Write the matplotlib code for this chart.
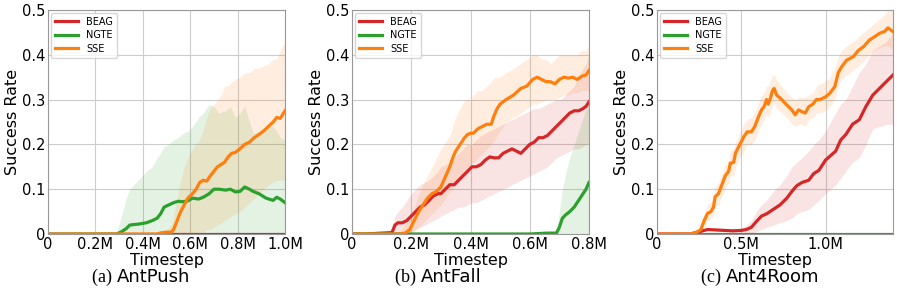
import matplotlib
matplotlib.use("Agg")
import matplotlib.pyplot as plt
import matplotlib.transforms as mtransforms
import numpy as np

# ---------------- data (timesteps in millions) ----------------
# (a) AntPush
push_beag_x = [0, 1.0]
push_beag_m = [0, 0]
push_beag_lo = [0, 0]
push_beag_hi = [0, 0]

push_ngte_x = [0, 0.25, 0.29, 0.31, 0.33, 0.345, 0.38, 0.415, 0.44, 0.46, 0.475, 0.49,
               0.51, 0.53, 0.55, 0.57, 0.59, 0.61, 0.635, 0.655, 0.68, 0.70, 0.72, 0.75,
               0.77, 0.79, 0.81, 0.83, 0.85, 0.866, 0.89, 0.92, 0.95, 0.965, 0.98, 1.0]
push_ngte_m = [0, 0, 0, 0.005, 0.012, 0.02, 0.022, 0.025, 0.03, 0.035, 0.045, 0.06,
               0.065, 0.07, 0.073, 0.072, 0.074, 0.08, 0.078, 0.082, 0.09, 0.1, 0.1, 0.098,
               0.1, 0.094, 0.095, 0.105, 0.1, 0.095, 0.09, 0.08, 0.075, 0.082, 0.078, 0.07]
push_ngte_hi = [0, 0, 0.005, 0.04, 0.08, 0.1, 0.12, 0.14, 0.15, 0.17, 0.18, 0.195,
                0.2, 0.21, 0.215, 0.225, 0.23, 0.24, 0.26, 0.27, 0.29, 0.285, 0.27, 0.275,
                0.285, 0.26, 0.27, 0.285, 0.25, 0.225, 0.23, 0.24, 0.24, 0.23, 0.215, 0.21]
push_ngte_lo = [0] * 36

push_sse_x = [0, 0.46, 0.48, 0.5, 0.52, 0.53, 0.545, 0.56, 0.575, 0.59, 0.61, 0.625,
              0.64, 0.655, 0.67, 0.685, 0.70, 0.715, 0.73, 0.745, 0.76, 0.775, 0.79, 0.81,
              0.83, 0.85, 0.87, 0.89, 0.91, 0.93, 0.95, 0.965, 0.98, 1.0]
push_sse_m = [0, 0, 0.003, 0.004, 0.004, 0.01, 0.03, 0.05, 0.065, 0.08, 0.09, 0.1,
              0.115, 0.12, 0.118, 0.13, 0.14, 0.15, 0.155, 0.16, 0.172, 0.18, 0.182, 0.19,
              0.2, 0.205, 0.215, 0.222, 0.23, 0.24, 0.25, 0.26, 0.258, 0.275]
push_sse_hi = [0, 0, 0.005, 0.01, 0.02, 0.04, 0.08, 0.12, 0.15, 0.17, 0.19, 0.2,
               0.21, 0.23, 0.26, 0.28, 0.29, 0.3, 0.31, 0.33, 0.33, 0.34, 0.345, 0.35,
               0.36, 0.36, 0.37, 0.37, 0.375, 0.38, 0.39, 0.39, 0.41, 0.43]
push_sse_lo = [0, 0, 0, 0, 0, 0, 0, 0, 0, 0, 0, 0.002,
               0.005, 0.005, 0.01, 0.01, 0.015, 0.02, 0.025, 0.03, 0.035, 0.04, 0.045, 0.05,
               0.06, 0.07, 0.08, 0.09, 0.1, 0.11, 0.115, 0.12, 0.12, 0.12]

# (b) AntFall
fall_beag_x = [0, 0.05, 0.1, 0.135, 0.145, 0.155, 0.17, 0.185, 0.2, 0.215,
               0.23, 0.245, 0.26, 0.275, 0.29, 0.3, 0.315, 0.33, 0.345, 0.36,
               0.375, 0.39, 0.405, 0.42, 0.435, 0.45, 0.465, 0.48, 0.495, 0.51,
               0.525, 0.54, 0.555, 0.57, 0.585, 0.6, 0.615, 0.63, 0.645, 0.66,
               0.675, 0.69, 0.705, 0.72, 0.735, 0.75, 0.765, 0.78, 0.79, 0.8]
fall_beag_m = [0, 0, 0.002, 0.003, 0.02, 0.025, 0.025, 0.03, 0.04, 0.05,
               0.06, 0.065, 0.075, 0.085, 0.09, 0.09, 0.1, 0.11, 0.11, 0.12,
               0.13, 0.14, 0.15, 0.15, 0.155, 0.165, 0.172, 0.17, 0.17, 0.18,
               0.185, 0.19, 0.185, 0.18, 0.19, 0.2, 0.205, 0.215, 0.215, 0.22,
               0.23, 0.24, 0.25, 0.26, 0.27, 0.275, 0.275, 0.28, 0.285, 0.295]
fall_beag_hi = [0, 0, 0.005, 0.01, 0.04, 0.05, 0.06, 0.075, 0.09, 0.1,
                0.11, 0.115, 0.12, 0.13, 0.14, 0.15, 0.155, 0.16, 0.17, 0.18,
                0.19, 0.2, 0.2, 0.21, 0.22, 0.225, 0.23, 0.235, 0.24, 0.245,
                0.25, 0.255, 0.26, 0.265, 0.27, 0.275, 0.28, 0.28, 0.285, 0.29,
                0.295, 0.3, 0.3, 0.31, 0.32, 0.33, 0.35, 0.37, 0.38, 0.4]
fall_beag_lo = [0, 0, 0, 0, 0, 0, 0, 0, 0.005, 0.01,
                0.015, 0.02, 0.025, 0.03, 0.035, 0.04, 0.045, 0.05, 0.055, 0.06,
                0.06, 0.065, 0.07, 0.07, 0.075, 0.08, 0.085, 0.09, 0.095, 0.1,
                0.105, 0.11, 0.115, 0.12, 0.125, 0.13, 0.135, 0.14, 0.145, 0.15,
                0.16, 0.17, 0.175, 0.18, 0.185, 0.19, 0.19, 0.195, 0.2, 0.2]

fall_ngte_x = [0, 0.6, 0.66, 0.69, 0.7, 0.71, 0.72, 0.735, 0.75, 0.765, 0.78, 0.79, 0.8]
fall_ngte_m = [0, 0, 0.002, 0.002, 0.015, 0.035, 0.042, 0.05, 0.06, 0.075, 0.09, 0.1, 0.115]
fall_ngte_hi = [0, 0, 0.003, 0.005, 0.05, 0.1, 0.13, 0.17, 0.2, 0.23, 0.26, 0.28, 0.3]
fall_ngte_lo = [0] * 13

fall_sse_x = [0, 0.1, 0.16, 0.18, 0.195, 0.21, 0.225, 0.24, 0.255, 0.27,
              0.285, 0.3, 0.31, 0.32, 0.33, 0.34, 0.35, 0.365, 0.38, 0.39,
              0.40, 0.41, 0.425, 0.44, 0.455, 0.47, 0.48, 0.49, 0.50, 0.52,
              0.545, 0.57, 0.59, 0.61, 0.625, 0.64, 0.655, 0.67, 0.685, 0.70,
              0.715, 0.73, 0.745, 0.76, 0.775, 0.79, 0.8]
fall_sse_m = [0, 0, 0, 0.002, 0.01, 0.03, 0.05, 0.065, 0.08, 0.09,
              0.095, 0.105, 0.12, 0.135, 0.15, 0.17, 0.185, 0.2, 0.215, 0.222,
              0.225, 0.225, 0.235, 0.24, 0.245, 0.245, 0.265, 0.28, 0.29, 0.3,
              0.31, 0.325, 0.33, 0.345, 0.35, 0.345, 0.34, 0.34, 0.335, 0.345,
              0.35, 0.348, 0.35, 0.345, 0.352, 0.355, 0.365]
fall_sse_hi = [0, 0, 0.003, 0.02, 0.04, 0.06, 0.09, 0.11, 0.13, 0.15,
               0.17, 0.19, 0.2, 0.21, 0.22, 0.24, 0.26, 0.28, 0.3, 0.3,
               0.3, 0.31, 0.32, 0.32, 0.33, 0.34, 0.35, 0.35, 0.35, 0.36,
               0.37, 0.38, 0.39, 0.4, 0.4, 0.39, 0.39, 0.38, 0.39, 0.4,
               0.4, 0.4, 0.4, 0.4, 0.41, 0.41, 0.42]
fall_sse_lo = [0, 0, 0, 0, 0, 0.005, 0.015, 0.025, 0.035, 0.045,
               0.055, 0.065, 0.075, 0.085, 0.095, 0.1, 0.11, 0.125, 0.14, 0.15,
               0.155, 0.16, 0.17, 0.18, 0.19, 0.2, 0.21, 0.22, 0.23, 0.25,
               0.26, 0.27, 0.28, 0.29, 0.29, 0.295, 0.3, 0.3, 0.3, 0.305,
               0.31, 0.31, 0.315, 0.315, 0.32, 0.32, 0.32]

# (c) Ant4Room
room_beag_x = [0, 0.2, 0.25, 0.3, 0.35, 0.4, 0.45, 0.5, 0.53, 0.56,
               0.59, 0.62, 0.65, 0.69, 0.73, 0.77, 0.8, 0.83, 0.86, 0.9,
               0.93, 0.96, 1.0, 1.03, 1.06, 1.09, 1.12, 1.16, 1.2, 1.24,
               1.28, 1.32, 1.36, 1.4]
room_beag_m = [0, 0, 0.005, 0.01, 0.009, 0.008, 0.007, 0.008, 0.01, 0.015,
               0.028, 0.04, 0.045, 0.055, 0.065, 0.08, 0.095, 0.108, 0.115, 0.12,
               0.135, 0.142, 0.165, 0.175, 0.185, 0.21, 0.222, 0.245, 0.255, 0.285,
               0.31, 0.325, 0.34, 0.355]
room_beag_hi = [0, 0, 0.006, 0.012, 0.011, 0.01, 0.009, 0.012, 0.02, 0.03,
                0.05, 0.065, 0.075, 0.095, 0.11, 0.13, 0.15, 0.16, 0.17, 0.185,
                0.2, 0.21, 0.23, 0.25, 0.27, 0.29, 0.3, 0.33, 0.36, 0.38,
                0.41, 0.42, 0.43, 0.45]
room_beag_lo = [0, 0, 0.004, 0.008, 0.007, 0.006, 0.005, 0.005, 0.003, 0.002,
                0.005, 0.01, 0.015, 0.02, 0.025, 0.03, 0.035, 0.045, 0.05, 0.055,
                0.065, 0.075, 0.09, 0.1, 0.11, 0.125, 0.14, 0.16, 0.17, 0.2,
                0.235, 0.24, 0.245, 0.245]

room_ngte_x = [0, 1.4]
room_ngte_m = [0, 0]
room_ngte_lo = [0, 0]
room_ngte_hi = [0, 0]

room_sse_x = [0, 0.15, 0.2, 0.24, 0.26, 0.28, 0.3, 0.32, 0.335, 0.345,
              0.365, 0.385, 0.405, 0.425, 0.435, 0.455, 0.465, 0.485, 0.515, 0.535,
              0.56, 0.58, 0.6, 0.62, 0.635, 0.65, 0.66, 0.675, 0.685, 0.695,
              0.71, 0.74, 0.77, 0.8, 0.82, 0.84, 0.86, 0.88, 0.9, 0.925,
              0.945, 0.965, 1.0, 1.025, 1.055, 1.075, 1.095, 1.125, 1.165, 1.195,
              1.225, 1.26, 1.29, 1.32, 1.35, 1.37, 1.4]
room_sse_m = [0, 0, 0, 0.005, 0.01, 0.03, 0.046, 0.05, 0.06, 0.083,
              0.09, 0.11, 0.13, 0.14, 0.158, 0.16, 0.18, 0.195, 0.217, 0.228,
              0.228, 0.24, 0.26, 0.277, 0.284, 0.3, 0.29, 0.306, 0.32, 0.325,
              0.31, 0.3, 0.288, 0.277, 0.266, 0.277, 0.273, 0.27, 0.284, 0.29,
              0.3, 0.3, 0.306, 0.314, 0.329, 0.36, 0.373, 0.388, 0.396, 0.41,
              0.418, 0.433, 0.44, 0.448, 0.452, 0.46, 0.452]
room_sse_hi = [0, 0, 0.002, 0.01, 0.02, 0.045, 0.065, 0.07, 0.085, 0.105,
               0.115, 0.135, 0.155, 0.165, 0.185, 0.19, 0.205, 0.22, 0.245, 0.255,
               0.26, 0.27, 0.29, 0.31, 0.315, 0.33, 0.33, 0.345, 0.355, 0.355,
               0.345, 0.33, 0.315, 0.305, 0.3, 0.305, 0.305, 0.305, 0.31, 0.315,
               0.33, 0.335, 0.34, 0.35, 0.37, 0.395, 0.41, 0.42, 0.43, 0.44,
               0.45, 0.46, 0.47, 0.48, 0.49, 0.5, 0.5]
room_sse_lo = [0, 0, 0, 0, 0.002, 0.015, 0.03, 0.035, 0.04, 0.06,
               0.065, 0.085, 0.1, 0.115, 0.13, 0.13, 0.15, 0.165, 0.185, 0.2,
               0.2, 0.21, 0.23, 0.245, 0.255, 0.27, 0.26, 0.27, 0.29, 0.29,
               0.28, 0.27, 0.26, 0.245, 0.24, 0.245, 0.245, 0.24, 0.255, 0.26,
               0.27, 0.27, 0.275, 0.285, 0.3, 0.33, 0.345, 0.355, 0.365, 0.375,
               0.385, 0.4, 0.41, 0.415, 0.42, 0.42, 0.41]

methods = ["BEAG", "NGTE", "SSE"]
colors = {"BEAG": "#d62728", "NGTE": "#2ca02c", "SSE": "#ff7f0e"}

panels = [
    ("(a)", "AntPush", 1.0, [0, 0.2, 0.4, 0.6, 0.8, 1.0],
     ["0", "0.2M", "0.4M", "0.6M", "0.8M", "1.0M"],
     {"BEAG": (push_beag_x, push_beag_m, push_beag_lo, push_beag_hi),
      "NGTE": (push_ngte_x, push_ngte_m, push_ngte_lo, push_ngte_hi),
      "SSE": (push_sse_x, push_sse_m, push_sse_lo, push_sse_hi)}),
    ("(b)", "AntFall", 0.8, [0, 0.2, 0.4, 0.6, 0.8],
     ["0", "0.2M", "0.4M", "0.6M", "0.8M"],
     {"BEAG": (fall_beag_x, fall_beag_m, fall_beag_lo, fall_beag_hi),
      "NGTE": (fall_ngte_x, fall_ngte_m, fall_ngte_lo, fall_ngte_hi),
      "SSE": (fall_sse_x, fall_sse_m, fall_sse_lo, fall_sse_hi)}),
    ("(c)", "Ant4Room", 1.4, [0, 0.5, 1.0],
     ["0", "0.5M", "1.0M"],
     {"BEAG": (room_beag_x, room_beag_m, room_beag_lo, room_beag_hi),
      "NGTE": (room_ngte_x, room_ngte_m, room_ngte_lo, room_ngte_hi),
      "SSE": (room_sse_x, room_sse_m, room_sse_lo, room_sse_hi)}),
]

yticks = [0, 0.1, 0.2, 0.3, 0.4, 0.5]
ylabels = ["0", "0.1", "0.2", "0.3", "0.4", "0.5"]

fig = plt.figure(figsize=(8.97, 2.95), dpi=100)
lefts = [48, 352, 657]
widths = [237, 237, 236]

for i, (tag, name, xmax, xt, xtl, data) in enumerate(panels):
    ax = fig.add_axes([lefts[i] / 897, 61 / 295, widths[i] / 897, 224 / 295])
    for m in methods:
        x, mean, lo, hi = data[m]
        ax.fill_between(x, lo, hi, color=colors[m], alpha=0.13, linewidth=0)
        ax.plot(x, mean, color=colors[m], lw=2.3, label=m)
    ax.set_xlim(0, xmax)
    ax.set_ylim(0, 0.5)
    ax.set_xticks(xt)
    ax.set_xticklabels(xtl)
    ax.set_yticks(yticks)
    ax.set_yticklabels(ylabels)
    ax.tick_params(labelsize=10.5, length=0, pad=2)
    ax.grid(True, color="#cccccc", lw=0.8)
    ax.set_axisbelow(True)
    for s in ax.spines.values():
        s.set_color("#999999")
    ax.set_xlabel("Timestep", fontsize=11.5, labelpad=1)
    ax.set_ylabel("Success Rate", fontsize=11.5, labelpad=1)
    ax.legend(loc="upper left", fontsize=7, handlelength=2.4, borderaxespad=0.3,
              labelspacing=0.35, handletextpad=0.8)
    tr = mtransforms.blended_transform_factory(ax.transAxes, fig.transFigure)
    ax.text(0.29, 0.06, tag + " ", transform=tr, ha="right", va="center",
            fontsize=13, family="Liberation Serif")
    ax.text(0.29, 0.06, name, transform=tr, ha="left", va="center", fontsize=13)

fig.savefig("out.png", dpi=100)
